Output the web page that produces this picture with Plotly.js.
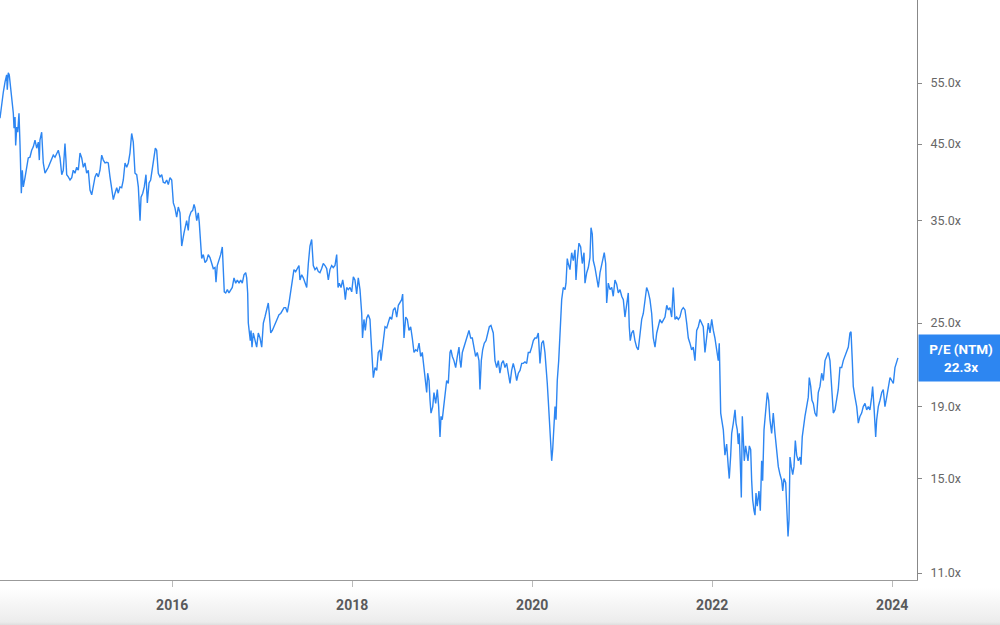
<!DOCTYPE html>
<html>
<head>
<meta charset="utf-8">
<script src="https://cdn.plot.ly/plotly-3.0.1.min.js"></script>
<style>
  html, body { margin: 0; padding: 0; }
  body { width: 1000px; height: 625px; background: linear-gradient(to bottom, #ffffff 0px, #ffffff 588px, #ececec 622px, #dedede 625px); }
  #chart { width: 1000px; height: 625px; }
</style>
</head>
<body>
<div id="chart"></div>
<script>
// Dates as decimal years, P/E (NTM) values
const d2014 = [2014.087,2014.106,2014.124,2014.143,2014.161,2014.168,2014.179,2014.190,2014.209,2014.224,2014.235,2014.243,2014.254,2014.261,2014.273,2014.284,2014.298,2014.309,2014.317,2014.324,2014.335,2014.346,2014.365,2014.384,2014.401,2014.420,2014.439,2014.457,2014.476,2014.495,2014.513,2014.524,2014.531,2014.550,2014.568,2014.587,2014.606,2014.624,2014.643,2014.661,2014.679,2014.698,2014.717,2014.735,2014.754,2014.773,2014.790,2014.809,2014.820,2014.828,2014.846,2014.865,2014.884,2014.901,2014.920,2014.939,2014.957,2014.976,2014.995];
const v2014 = [49.0,51.5,53.4,55.2,56.5,53.8,56.9,56.5,53.3,52.0,49.8,47.4,49.2,44.8,47.6,46.8,49.8,45.1,41.3,38.3,41.3,39.1,40.3,41.7,43.0,43.1,44.1,44.6,45.6,44.4,45.3,42.7,45.6,46.8,42.3,40.9,41.3,41.7,42.3,43.0,43.4,43.1,43.7,44.1,43.0,40.7,41.3,45.1,42.7,40.7,40.4,40.0,40.3,41.3,40.9,41.7,41.3,43.7,43.0];

const d2015 = [2015.013,2015.031,2015.050,2015.068,2015.087,2015.106,2015.124,2015.143,2015.161,2015.179,2015.198,2015.217,2015.235,2015.254,2015.273,2015.290,2015.309,2015.328,2015.346,2015.365,2015.384,2015.401,2015.420,2015.439,2015.457,2015.476,2015.495,2015.513,2015.531,2015.550,2015.568,2015.587,2015.606,2015.624,2015.643,2015.654,2015.673,2015.690,2015.709,2015.724,2015.743,2015.761,2015.779,2015.798,2015.813,2015.828,2015.846,2015.865,2015.884,2015.901,2015.920,2015.939,2015.957,2015.976,2015.995];
const v2015 = [41.7,42.3,40.9,41.3,38.7,38.1,39.1,40.4,40.9,40.4,41.3,43.4,42.7,42.3,42.4,42.3,40.4,39.1,37.5,38.3,39.0,38.3,39.1,39.0,40.0,42.3,41.7,42.3,43.7,46.6,45.3,40.9,40.7,39.1,35.0,37.8,38.3,39.1,40.7,37.1,39.6,40.0,41.3,42.7,44.4,44.1,40.9,40.4,40.7,39.7,39.6,40.0,39.4,40.3,40.0];

const d2016 = [2016.013,2016.031,2016.050,2016.068,2016.087,2016.106,2016.131,2016.146,2016.161,2016.179,2016.190,2016.209,2016.228,2016.243,2016.254,2016.273,2016.290,2016.301,2016.317,2016.328,2016.346,2016.365,2016.384,2016.401,2016.420,2016.439,2016.457,2016.476,2016.487,2016.501,2016.520,2016.539,2016.557,2016.568,2016.579,2016.595,2016.613,2016.631,2016.650,2016.668,2016.687,2016.706,2016.724,2016.743,2016.761,2016.779,2016.798,2016.817,2016.828,2016.839,2016.846,2016.857,2016.868,2016.876,2016.887,2016.901,2016.920,2016.939,2016.957,2016.976,2016.995];
const v2016 = [37.1,36.5,35.4,36.6,35.9,32.2,33.6,34.2,35.0,33.9,35.4,36.0,36.2,36.9,36.5,35.0,35.9,34.8,32.9,30.9,31.3,30.5,30.7,31.3,31.0,30.5,29.9,30.0,28.6,30.2,30.7,31.3,32.1,29.5,27.7,27.6,27.9,27.6,27.9,28.1,29.0,28.5,28.8,28.5,28.8,28.5,29.3,29.5,29.0,27.6,25.0,24.2,23.6,24.4,23.1,24.2,23.6,23.1,24.2,23.8,23.1];

const d2017 = [2017.013,2017.031,2017.050,2017.068,2017.079,2017.095,2017.113,2017.131,2017.150,2017.168,2017.187,2017.206,2017.224,2017.243,2017.261,2017.279,2017.298,2017.317,2017.335,2017.353,2017.372,2017.390,2017.409,2017.420,2017.439,2017.457,2017.476,2017.495,2017.513,2017.531,2017.550,2017.568,2017.587,2017.606,2017.624,2017.642,2017.661,2017.679,2017.698,2017.717,2017.735,2017.753,2017.772,2017.790,2017.809,2017.828,2017.843,2017.857,2017.876,2017.895,2017.913,2017.924,2017.939,2017.957,2017.976,2017.995];
const v2017 = [25.0,25.5,26.1,26.7,25.8,24.2,24.4,24.7,25.0,25.3,25.7,25.8,26.1,26.3,26.3,25.9,26.7,27.6,28.8,29.8,29.6,29.9,30.2,28.8,29.3,29.0,28.5,28.1,30.4,32.2,32.9,30.2,29.8,30.0,29.6,29.5,29.9,30.4,30.2,29.9,28.8,29.8,30.2,30.0,30.2,31.3,28.1,28.5,28.1,28.8,27.9,27.0,28.1,27.9,28.1,27.7];

const d2018 = [2018.013,2018.031,2018.050,2018.068,2018.087,2018.106,2018.115,2018.131,2018.146,2018.161,2018.179,2018.198,2018.209,2018.223,2018.235,2018.254,2018.273,2018.290,2018.309,2018.320,2018.335,2018.353,2018.365,2018.384,2018.401,2018.420,2018.439,2018.457,2018.476,2018.495,2018.513,2018.531,2018.550,2018.561,2018.576,2018.595,2018.613,2018.631,2018.650,2018.668,2018.687,2018.706,2018.724,2018.743,2018.761,2018.779,2018.798,2018.817,2018.828,2018.839,2018.854,2018.865,2018.876,2018.895,2018.909,2018.928,2018.946,2018.961,2018.976,2018.987];
const v2018 = [29.1,28.8,27.5,29.0,27.9,25.8,23.8,25.3,24.4,25.4,25.7,25.3,23.8,21.9,20.9,21.6,21.4,22.7,22.9,22.1,23.1,24.4,24.7,24.6,25.0,25.5,25.3,26.1,26.3,25.5,26.5,26.8,27.0,27.5,23.8,25.5,25.3,24.4,24.7,23.8,22.7,22.9,22.8,23.4,22.4,22.7,21.6,20.9,19.9,21.2,20.7,19.4,18.6,19.0,19.9,19.2,20.1,19.0,17.2,18.4];

const d2019 = [2019.001,2019.013,2019.031,2019.050,2019.068,2019.087,2019.098,2019.113,2019.131,2019.150,2019.168,2019.187,2019.198,2019.209,2019.224,2019.243,2019.261,2019.279,2019.298,2019.317,2019.335,2019.353,2019.372,2019.390,2019.409,2019.420,2019.435,2019.450,2019.468,2019.487,2019.506,2019.524,2019.542,2019.557,2019.568,2019.587,2019.606,2019.624,2019.642,2019.661,2019.679,2019.698,2019.717,2019.735,2019.754,2019.772,2019.790,2019.809,2019.828,2019.846,2019.865,2019.884,2019.901,2019.920,2019.939,2019.957,2019.976,2019.995];
const v2019 = [18.2,18.8,19.9,20.7,20.5,22.7,22.9,22.4,22.1,21.6,22.4,23.1,22.1,21.6,22.7,23.1,23.6,24.0,24.4,23.8,23.8,23.1,22.4,22.7,22.1,20.1,22.1,22.9,23.4,23.6,24.2,24.7,24.8,24.4,24.2,22.1,21.6,22.1,21.2,21.9,22.1,21.6,21.9,21.2,20.5,21.4,21.9,21.4,20.7,21.2,21.4,21.9,21.9,22.0,21.9,22.7,22.7,23.1];

const d2020 = [2020.013,2020.031,2020.050,2020.068,2020.087,2020.106,2020.124,2020.142,2020.154,2020.168,2020.179,2020.190,2020.206,2020.217,2020.228,2020.243,2020.254,2020.265,2020.279,2020.295,2020.301,2020.317,2020.328,2020.346,2020.365,2020.376,2020.390,2020.401,2020.420,2020.439,2020.457,2020.476,2020.487,2020.501,2020.520,2020.539,2020.557,2020.576,2020.587,2020.606,2020.624,2020.642,2020.654,2020.668,2020.679,2020.698,2020.717,2020.735,2020.754,2020.773,2020.790,2020.801,2020.817,2020.828,2020.846,2020.865,2020.884,2020.901,2020.920,2020.939,2020.957,2020.976,2020.995];
const v2020 = [23.6,23.8,23.8,24.2,21.9,23.4,23.6,22.7,21.2,20.5,19.4,18.2,16.7,15.9,16.5,18.2,19.0,18.2,20.7,22.1,22.9,25.8,27.0,28.1,27.9,28.5,30.9,30.4,29.8,31.5,30.7,31.8,28.8,30.7,32.5,32.1,30.4,31.5,28.5,29.5,30.0,31.0,34.2,33.5,30.7,30.0,28.8,28.1,29.5,30.4,31.0,31.5,30.4,26.7,28.5,27.9,28.1,27.3,28.8,28.4,27.6,27.9,27.3];

const d2021 = [2021.013,2021.031,2021.050,2021.068,2021.079,2021.090,2021.106,2021.124,2021.142,2021.161,2021.179,2021.198,2021.217,2021.235,2021.254,2021.272,2021.290,2021.309,2021.328,2021.346,2021.365,2021.384,2021.401,2021.420,2021.439,2021.457,2021.476,2021.495,2021.513,2021.531,2021.550,2021.568,2021.587,2021.606,2021.624,2021.642,2021.661,2021.679,2021.698,2021.717,2021.735,2021.753,2021.772,2021.790,2021.809,2021.828,2021.846,2021.865,2021.884,2021.901,2021.920,2021.939,2021.957,2021.976,2021.995];
const v2021 = [27.0,25.5,26.7,27.6,24.7,23.6,24.2,24.4,23.6,23.1,22.9,24.2,25.3,25.8,27.0,28.1,27.7,27.0,25.8,23.8,23.1,24.2,24.7,25.3,25.0,25.3,25.5,26.5,26.1,26.3,25.5,28.1,25.3,25.5,25.3,25.5,26.1,26.3,26.1,25.0,23.8,23.4,22.9,23.1,22.1,24.4,24.7,25.3,25.0,24.7,22.7,24.2,25.0,24.2,25.3];

const d2022 = [2022.013,2022.031,2022.050,2022.068,2022.079,2022.095,2022.106,2022.124,2022.142,2022.161,2022.179,2022.190,2022.206,2022.217,2022.235,2022.254,2022.265,2022.279,2022.290,2022.301,2022.317,2022.324,2022.335,2022.346,2022.357,2022.372,2022.383,2022.398,2022.413,2022.428,2022.439,2022.450,2022.465,2022.476,2022.487,2022.501,2022.520,2022.535,2022.550,2022.561,2022.576,2022.595,2022.613,2022.628,2022.642,2022.661,2022.679,2022.698,2022.717,2022.735,2022.754,2022.773,2022.784,2022.798,2022.817,2022.831,2022.843,2022.854,2022.865,2022.879,2022.895,2022.909,2022.924,2022.939,2022.957,2022.976,2022.987];
const v2022 = [24.4,23.8,22.9,22.1,23.4,18.6,18.2,17.6,16.2,16.8,15.6,15.0,16.2,17.4,18.0,18.8,18.0,17.6,16.8,17.4,15.2,14.1,18.4,17.2,15.9,16.7,16.2,15.9,16.7,16.5,14.9,14.0,13.5,13.3,14.3,13.7,14.4,13.5,15.9,14.9,17.6,18.6,19.9,19.4,18.2,17.4,18.6,17.4,16.2,15.6,15.2,14.9,14.4,15.0,14.8,13.7,12.4,13.1,16.1,15.6,15.2,15.6,17.0,16.2,15.9,16.1,15.7];

const d2023 = [2023.001,2023.013,2023.031,2023.050,2023.068,2023.079,2023.095,2023.109,2023.124,2023.142,2023.161,2023.179,2023.198,2023.217,2023.235,2023.254,2023.272,2023.290,2023.309,2023.328,2023.346,2023.365,2023.384,2023.401,2023.420,2023.439,2023.457,2023.476,2023.495,2023.513,2023.531,2023.543,2023.557,2023.568,2023.587,2023.606,2023.624,2023.642,2023.661,2023.679,2023.698,2023.717,2023.735,2023.753,2023.772,2023.783,2023.798,2023.817,2023.828,2023.846,2023.865,2023.884,2023.901,2023.920,2023.939,2023.957,2023.976,2023.995];
const v2023 = [17.2,17.8,18.4,19.0,19.6,20.9,20.3,19.4,19.2,18.6,18.4,19.9,20.3,21.2,20.7,22.1,22.4,22.7,22.1,20.3,18.6,18.8,19.6,20.1,21.6,21.6,22.1,22.4,22.7,23.1,24.2,24.3,22.1,20.3,19.6,19.0,18.0,18.4,18.6,19.0,19.2,18.8,19.0,18.8,19.6,20.3,19.0,17.2,18.2,19.0,19.4,19.9,20.1,19.0,19.6,20.3,20.9,20.7];

const d2024 = [2024.013,2024.031,2024.050,2024.064];
const v2024 = [20.5,21.6,22.1,22.3];

const seriesName = 'P/E (NTM)';
const yTickVals = [11, 15, 19, 25, 35, 45, 55];
const yTickText = ['11.0x', '15.0x', '19.0x', '25.0x', '35.0x', '45.0x', '55.0x'];
const xTickVals = [2016, 2018, 2020, 2022, 2024];
const xTickText = ['2016', '2018', '2020', '2022', '2024'];

const dates = [].concat(d2014, d2015, d2016, d2017, d2018, d2019, d2020, d2021, d2022, d2023, d2024);
const values = [].concat(v2014, v2015, v2016, v2017, v2018, v2019, v2020, v2021, v2022, v2023, v2024);
const lastVal = values[values.length - 1];

const trace = {
  x: dates,
  y: values,
  type: 'scatter',
  mode: 'lines',
  name: seriesName,
  line: { color: '#2d86f2', width: 1.4 },
  hoverinfo: 'skip'
};

const layout = {
  width: 1000,
  height: 625,
  margin: { l: 0, r: 83, t: 0, b: 45, pad: 0 },
  paper_bgcolor: 'rgba(0,0,0,0)',
  plot_bgcolor: '#ffffff',
  showlegend: false,
  font: { family: 'Roboto, "Liberation Sans", sans-serif' },
  xaxis: {
    type: 'linear',
    range: [2014.087, 2024.276],
    tickmode: 'array',
    tickvals: xTickVals,
    ticktext: xTickText,
    ticks: 'outside',
    ticklen: 6,
    tickwidth: 1,
    tickcolor: '#bbbbbb',
    ticklabelstandoff: 6,
    showline: true,
    linecolor: '#9a9a9a',
    linewidth: 1,
    showgrid: false,
    zeroline: false,
    tickfont: { family: 'Roboto, sans-serif', size: 14, color: '#5a5a5a', weight: 'bold' }
  },
  yaxis: {
    type: 'log',
    side: 'right',
    range: [1.0314, 1.8588],
    tickmode: 'array',
    tickvals: yTickVals,
    ticktext: yTickText,
    ticks: 'outside',
    ticklen: 4,
    tickwidth: 1,
    tickcolor: '#888888',
    ticklabelstandoff: 6,
    showline: true,
    linecolor: '#888888',
    linewidth: 1,
    showgrid: false,
    zeroline: false,
    tickfont: { family: 'Roboto, sans-serif', size: 12.5, color: '#666666' }
  },
  annotations: [{
    xref: 'paper', yref: 'y',
    x: 1, y: Math.log10(lastVal),
    xanchor: 'left', yanchor: 'middle',
    xshift: 1,
    showarrow: false,
    text: '<b>' + seriesName + '</b><br><b>' + lastVal.toFixed(1) + 'x</b>',
    align: 'center',
    bgcolor: '#2d86f1',
    borderpad: 4,
    width: 76,
    height: 38,
    font: { family: 'Roboto, sans-serif', size: 13.5, color: '#ffffff' }
  }]
};

Plotly.newPlot('chart', [trace], layout, { staticPlot: true, displayModeBar: false });
</script>
</body>
</html>
